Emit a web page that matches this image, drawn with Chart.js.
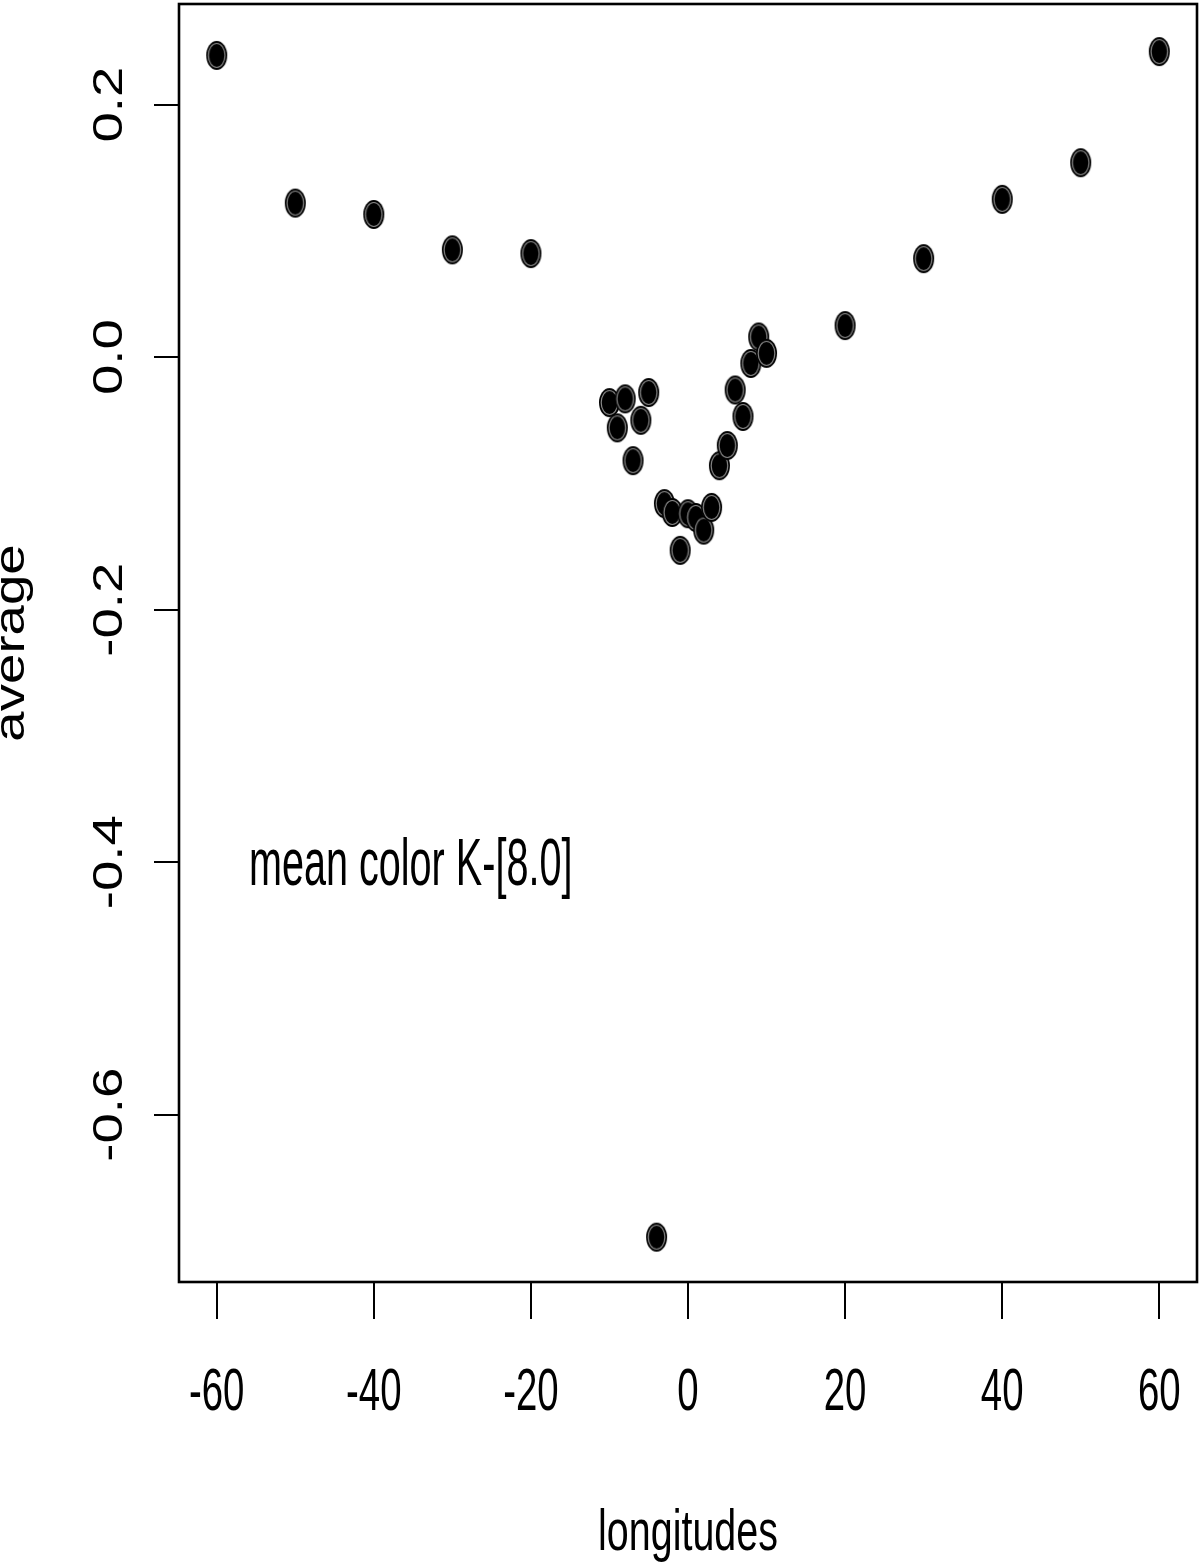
<!DOCTYPE html>
<html>
<head>
<meta charset="utf-8">
<script src="https://cdn.jsdelivr.net/npm/chart.js@4/dist/chart.umd.min.js"></script>
<style>
  html, body { margin: 0; padding: 0; background: #fff; }
  #wrap { width: 1200px; height: 1564px; }
</style>
</head>
<body>
<div id="wrap"><canvas id="chart" width="1200" height="1564"></canvas></div>
<script>
// data
const longitudes = [-60, -50, -40, -30, -20, -10, -9, -8, -7, -6, -5, -4, -3, -2, -1, 0, 1, 2, 3, 4, 5, 6, 7, 8, 9, 10, 20, 30, 40, 50, 60];
const average = [0.239, 0.122, 0.113, 0.085, 0.082, -0.036, -0.056, -0.033, -0.082, -0.050, -0.028, -0.697,
                 -0.116, -0.123, -0.153, -0.124, -0.127, -0.137, -0.119, -0.086, -0.070, -0.026, -0.047,
                 -0.005, 0.016, 0.003, 0.025, 0.078, 0.125, 0.154, 0.242];
const xTicks = [-60, -40, -20, 0, 20, 40, 60];
const yTicks = [0.2, 0.0, -0.2, -0.4, -0.6];
const yTickLabels = ['0.2', '0.0', '-0.2', '-0.4', '-0.6'];
const xTitle = 'longitudes';
const yTitle = 'average';
const note = 'mean color K-[8.0]';

// R-style padded limits
const xMin = -64.8, xMax = 64.8;
const yMin = -0.7325, yMax = 0.2797;

const FONT = '"Liberation Sans", Arial, Helvetica, sans-serif';

// filled dot, slightly taller than wide like the picture
function makeDot() {
    const c = document.createElement('canvas');
    c.width = 23; c.height = 31;
    const g = c.getContext('2d');
    g.fillStyle = '#000';
    g.beginPath();
    g.ellipse(11.5, 15.5, 10.5, 14.5, 0, 0, Math.PI * 2);
    g.fill();
    g.strokeStyle = '#8a8a8a';
    g.lineWidth = 1.2;
    g.beginPath();
    g.ellipse(11.5, 15.5, 8.3, 12, 0, 0, Math.PI * 2);
    g.stroke();
    return c;
}
const dot = makeDot();

function squeezedText(ctx, text, x, y, size, sx, align, rot) {
    ctx.save();
    ctx.translate(x, y);
    if (rot) ctx.rotate(rot);
    ctx.scale(sx, 1);
    ctx.font = size + 'px ' + FONT;
    ctx.textAlign = align;
    ctx.textBaseline = 'alphabetic';
    ctx.fillStyle = '#000';
    ctx.fillText(text, 0, 0);
    ctx.restore();
}

const textPlugin = {
    id: 'rtext',
    afterDraw(chart) {
        const ctx = chart.ctx;
        const a = chart.chartArea;
        const xs = chart.scales.x, ys = chart.scales.y;

        // box
        ctx.save();
        ctx.strokeStyle = '#000';
        ctx.lineWidth = 2.6;
        ctx.strokeRect(a.left, a.top, a.right - a.left, a.bottom - a.top);
        ctx.restore();

        // x tick labels
        xTicks.forEach(v => {
            squeezedText(ctx, String(v), xs.getPixelForValue(v), 1410, 60, 0.64, 'center', 0);
        });
        // y tick labels (rotated, reading upward)
        yTicks.forEach((v, i) => {
            ctx.save();
            ctx.translate(122, ys.getPixelForValue(v));
            ctx.rotate(-Math.PI / 2);
            ctx.scale(1.3, 1);
            ctx.font = '42px ' + FONT;
            ctx.textAlign = 'center';
            ctx.fillStyle = '#000';
            ctx.fillText(yTickLabels[i], 0, 0);
            ctx.restore();
        });
        // axis titles
        squeezedText(ctx, xTitle, (a.left + a.right) / 2, 1550, 58, 0.68, 'center', 0);
        ctx.save();
        ctx.translate(24, (a.top + a.bottom) / 2);
        ctx.rotate(-Math.PI / 2);
        ctx.scale(1.3, 1);
        ctx.font = '42px ' + FONT;
        ctx.textAlign = 'center';
        ctx.fillStyle = '#000';
        ctx.fillText(yTitle, 0, 0);
        ctx.restore();

        // annotation in data coordinates
        squeezedText(ctx, note, xs.getPixelForValue(-55.9), ys.getPixelForValue(-0.418), 66, 0.6, 'left', 0);
    }
};

new Chart(document.getElementById('chart'), {
    type: 'scatter',
    data: {
        datasets: [{
            data: longitudes.map((x, i) => ({ x: x, y: average[i] })),
            pointStyle: dot,
            pointRadius: 12,
            pointHoverRadius: 12
        }]
    },
    options: {
        responsive: false,
        animation: false,
        devicePixelRatio: 1,
        layout: { autoPadding: false, padding: { top: 4, right: 3, left: 0, bottom: 0 } },
        plugins: { legend: { display: false }, tooltip: { enabled: false } },
        scales: {
            x: {
                type: 'linear',
                min: xMin, max: xMax,
                afterFit(s) { s.height = 282; },
                afterBuildTicks(s) { s.ticks = xTicks.map(v => ({ value: v })); },
                ticks: { display: false },
                border: { display: false },
                grid: { drawOnChartArea: false, drawTicks: true, tickLength: 37, color: '#000', lineWidth: 2 }
            },
            y: {
                type: 'linear',
                min: yMin, max: yMax,
                afterFit(s) { s.width = 179; },
                afterBuildTicks(s) { s.ticks = yTicks.map(v => ({ value: v })); },
                ticks: { display: false },
                border: { display: false },
                grid: { drawOnChartArea: false, drawTicks: true, tickLength: 25, color: '#000', lineWidth: 2 }
            }
        }
    },
    plugins: [textPlugin]
});
</script>
</body>
</html>
